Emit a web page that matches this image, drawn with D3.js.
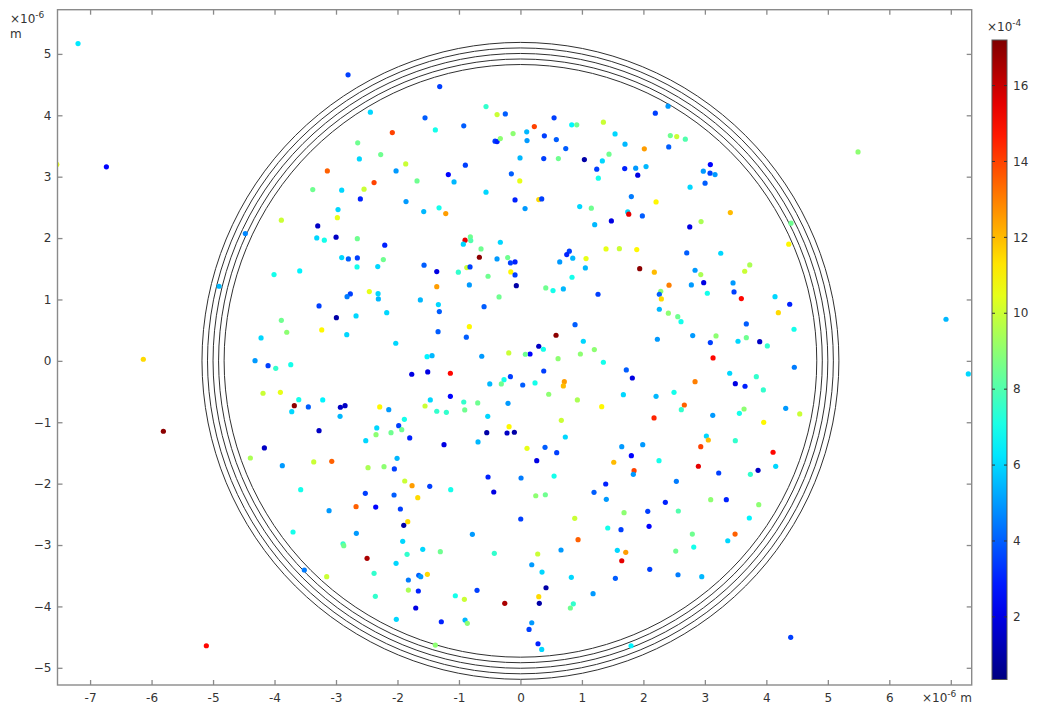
<!DOCTYPE html>
<html>
<head>
<meta charset="utf-8">
<script src="https://cdn.jsdelivr.net/npm/d3@7"></script>
<style>
  html, body { margin: 0; padding: 0; background: #fff; }
  svg { display: block; }
  text { font-family: "DejaVu Sans", "Liberation Sans", sans-serif; fill: #333; }
</style>
</head>
<body>
<svg id="chart" width="1043" height="706"></svg>
<script>
// Particle positions (x, y in units of 1e-6 m) and scalar value (units of 1e-4)
const particleX = [
  -7.196,-7.54,-6.735,-3.889,-4.475,
  -2.804,-1.313,-2.441,-0.56,-0.38,-0.246,-1.552,-1.384,-0.922,-0.12,-2.084,-2.647,-0.413,-0.38,-0.327,
  -2.273,-2.62,-1.866,-2.023,-3.141,-1.173,-0.896,-1.08,-0.148,-2.381,-1.682,-3.378,-2.907,-2.544,-2.604,
  -1.861,-0.56,-0.088,-2.967,-2.978,-1.573,-1.324,-1.215,-3.297,
  2.401,2.194,0.547,0.226,0.102,0.107,0.389,0.584,0.834,0.916,1.349,1.539,0.737,1.701,2.015,2.438,2.542,
  2.682,2.412,-0.007,0.379,0.617,1.04,1.441,1.332,1.241,1.267,1.696,1.875,2.043,1.908,3.089,2.975,3.084,
  3.165,3.003,2.759,-0.011,0.298,0.346,0.075,1.804,2.206,0.964,1.153,1.745,1.762,1.983,1.479,1.208,2.754,
  2.938,3.414,
  5.491,4.401,
  -4.902,-4.008,-3.889,-3.801,-4.219,-6.134,-4.317,-4.105,-3.98,-4.187,-3.905,-5.808,-4.165,-4.393,
  -3.313,-3.19,-2.999,-2.653,-2.207,-0.901,-0.929,-0.815,-0.808,-0.668,-0.641,-0.327,-0.164,-0.088,-0.207,
  -0.381,-2.907,-2.799,-2.653,-2.658,-2.23,-2.321,-3.59,-1.568,-1.361,-1.01,-0.873,-0.82,-0.527,-0.158,
  -0.088,-0.067,-1.361,-0.831,-2.458,-2.316,-2.311,-2.767,-2.82,-3.276,-1.628,-0.348,-1.335,-1.319,-0.592,
  -2.674,-2.994,-2.175,-3.232,-2.825,-1.34,-0.831,-0.88,-2.028,-3.736,-1.519,-1.438,-0.629,-0.19,-1.768,
  -1.508,-1.14,-1.14,-0.267,-0.311,-0.499,-0.164,-3.678,-3.606,-3.72,-3.45,-3.216,-2.929,-2.853,-2.289,
  -2.142,-2.934,-1.552,-1.466,-1.361,-1.205,-0.922,-0.906,-0.695,-0.202,-0.532,-0.185,-0.548,-0.218,-0.099,
  -1.888,-1.98,-1.931,-2.337,-2.349,-2.105,-1.801,-3.276,-2.516,-1.243,-0.69,-2.007,-3.362,-3.069,
  0.795,0.753,0.851,0.639,1.067,1.392,1.609,1.892,1.056,0.839,0.412,0.53,0.698,1.262,1.94,2.178,2.417,
  2.78,2.981,2.933,2.705,3.258,2.84,3.04,2.282,2.259,2.292,3.458,3.474,3.593,3.648,2.259,2.406,2.559,
  2.612,3.674,0.888,0.579,1.023,0.298,0.156,0.373,0.08,0.612,0.975,1.202,1.349,2.227,2.802,3.181,3.089,
  3.539,3.674,3.133,0.379,1.722,1.82,0.037,0.237,0.714,0.698,0.46,1.674,0.926,1.322,2.206,2.498,2.84,
  3.404,3.495,3.653,2.666,2.617,2.173,3.128,3.561,3.637,0.665,0.73,0.107,0.4,0.59,0.265,1.648,1.989,
  1.804,3.024,3.056,2.933,3.495,1.518,2.254,
  4.364,3.73,4.141,4.38,4.195,4.45,3.892,4.016,4.455,3.837,3.951,4.315,4.543,3.957,4.109,6.922,7.285,
  -3.873,-5.109,
  -2.479,-2.219,-2.051,-1.882,-1.763,-1.475,-1.134,-0.527,-0.434,-3.574,-2.523,-2.056,-1.67,-3.113,-2.674,
  -2.354,-1.953,-1.833,-1.898,-3.699,-2.669,-0.782,-1.915,-2.886,-2.874,-1.589,-1.844,-1.303,-0.425,-2.495,
  -2.023,-3.515,-3.151,-2.381,-1.823,-1.654,-1.622,-1.514,-1.823,-1.661,-2.36,-0.706,-1.059,-0.912,-1.703,
  -0.255,-2.019,-1.287,-0.901,-0.864,-1.384,
  1.848,1.836,2.894,3.225,0.01,0.547,1.387,2.536,0.249,0.405,1.197,1.397,2.357,3.095,3.349,0.005,0.883,
  1.685,2.071,2.568,1.42,1.636,2.092,0.937,2.796,3.491,3.372,2.819,2.526,0.66,1.576,1.713,1.648,0.281,
  0.184,0.351,2.103,2.563,2.949,0.828,1.544,0.416,0.298,0.307,1.181,0.86,0.812,0.184,0.14,0.286,0.346,1.799,
  3.865,4.152,3.74,3.876,3.723,4.396
];
const particleY = [
  5.169,3.20,3.16,2.291,2.073,
  4.659,4.468,4.051,4.142,4.012,4.023,3.958,3.762,3.828,3.702,3.719,3.551,3.578,3.572,3.621,
  3.36,3.29,3.208,3.094,3.094,3.034,3.187,2.915,3.046,2.904,2.931,2.79,2.78,2.796,2.638,
  2.594,2.747,2.622,2.464,2.333,2.431,2.492,2.399,2.198,
  4.148,4.035,3.958,3.816,3.730,3.588,3.665,3.604,3.844,3.844,3.888,3.697,3.458,3.529,3.453,3.67,3.653,
  3.611,3.485,3.306,3.295,3.295,3.279,3.366,3.257,3.122,2.975,3.132,3.138,3.165,3.024,3.197,3.089,3.057,
  3.034,2.894,2.829,2.931,2.627,2.638,2.48,2.676,2.589,2.513,2.487,2.426,2.389,2.361,2.28,2.219,2.182,
  2.268,2.415,
  3.404,2.242,
  1.215,1.405,0.661,0.466,0.373,0.026,0.003,-0.078,-0.121,-0.528,-0.512,-1.147,-1.419,-1.582,
  2.003,1.965,2.014,1.991,1.884,1.965,1.9,2.019,1.959,1.688,1.823,1.932,1.595,1.612,1.682,
  1.66,1.682,1.66,1.677,1.53,1.649,1.535,1.465,1.558,1.454,1.444,1.519,1.53,1.378,1.449,
  1.4,1.225,1.209,1.237,1.128,1.095,1.009,1.09,1.046,0.895,0.992,1.041,0.916,0.802,0.883,
  0.732,0.704,0.785,0.504,0.427,0.476,0.557,0.385,0.287,-0.062,0.068,0.085,0.075,0.129,-0.218,
  -0.181,-0.202,-0.577,-0.306,-0.376,-0.376,-0.257,-0.73,-0.632,-0.828,-0.751,-0.637,-0.756,-0.73,-0.751,
  -0.795,-0.903,-0.735,-0.637,-0.821,-0.838,-0.67,-0.8,-0.686,-0.691,-0.903,-1.072,-1.17,-1.175,-1.163,
  -0.952,-1.056,-1.121,-1.093,-1.203,-1.17,-1.256,-1.137,-1.3,-1.365,-1.321,-1.587,-1.647,-1.636,
  1.786,1.731,1.672,1.612,1.666,1.823,1.828,1.812,1.514,1.362,1.188,1.144,1.172,1.085,1.502,1.444,1.232,
  1.237,1.274,1.405,1.758,1.753,1.476,1.101,1.134,1.085,1.009,1.269,1.123,1.014,1.46,0.841,0.776,0.72,
  0.639,0.601,0.59,0.417,0.319,0.238,0.112,0.189,0.108,0.036,0.112,0.183,-0.023,0.352,0.411,0.406,0.297,
  0.319,0.378,0.047,-0.165,-0.148,-0.279,-0.393,-0.36,-0.339,-0.409,-0.544,-0.551,-0.637,-0.746,-0.577,-0.512,-0.339,
  -0.202,-0.372,-0.414,-0.719,-0.795,-0.93,-0.887,-0.854,-0.784,-0.968,-1.24,-1.424,-1.408,-1.496,-1.626,-1.398,-1.365,
  -1.545,-1.224,-1.289,-1.398,-1.3,-1.652,-1.626,
  1.9,1.563,1.046,0.922,0.785,0.515,0.313,0.243,-0.104,-0.257,-0.474,-0.773,-0.865,-1.001,-1.489,0.678,-0.213,
  -1.708,-4.641,
  -1.74,-1.724,-1.761,-1.957,-2.033,-2.043,-2.099,-1.892,-2.136,-2.099,-2.158,-2.185,-2.229,-2.441,-2.376,
  -2.381,-2.413,-2.62,-2.679,-2.788,-2.81,-2.826,-2.94,-2.979,-3.011,-3.07,-3.151,-3.109,-3.135,-3.217,
  -3.298,-3.407,-3.516,-3.461,-3.57,-3.494,-3.516,-3.477,-3.733,-3.749,-3.836,-3.738,-3.826,-3.885,-4.026,
  -3.95,-4.211,-4.25,-4.222,-4.276,-4.629,
  -1.789,-1.848,-1.717,-1.827,-1.908,-1.876,-2.006,-1.962,-2.197,-2.181,-2.141,-2.255,-2.304,-2.262,-2.262,-2.576,-2.565,
  -2.473,-2.451,-2.446,-2.723,-2.75,-2.696,-2.913,-2.821,-2.821,-2.93,-3.033,-3.098,-3.081,-3.086,-3.119,-3.256,-3.146,
  -3.321,-3.44,-3.396,-3.484,-3.516,-3.526,-3.543,-3.696,-3.842,-3.95,-3.793,-3.957,-4.026,-4.266,-4.374,-4.608,-4.7,-4.641,
  -1.783,-1.718,-1.848,-2.343,-2.56,-4.504
];
const particleValue = [
  6.3,10.5,2.5,10,4.7,
  3.5,3.5,6,7.5,10,4,4,7,4,9,14,8.5,3.5,3,9,
  8.5,6,10,5,13.5,2.5,3.5,5.5,4,14,8.5,8.5,6,10,3,
  5,6,3,6,10.5,5.5,7,12.5,1.5,
  5,3.5,3.5,14,5.5,5,3.5,4,6.5,8.5,10,6,4,5.5,12.5,8.5,10,
  8,4,5.5,3.5,8.5,1,8.5,6,3.5,7,3,5,5.5,2,2.5,5,3.5,
  5,4,6,10.5,11.5,3.5,5,4.5,11,6,8.5,6,15.5,4,2,5.5,2,
  9.5,12,
  9,8.5,
  5.5,7,8.5,9,6,11.5,5,3.5,7.5,10,10.5,17,1.5,9.5,
  6,7,1.5,8.5,3,15.5,6,8.5,8,17,8.5,6,3.5,3,8.5,
  5,6,4,3.5,7,8.5,6,6.5,4,2,7.5,10,3.5,8.5,11,
  3.5,1,12.5,5,10.5,6,5.5,3.5,4.5,3.5,5.5,8.5,6,4,4,
  6,1,6,11,6,4,11,4,6,7,6.5,5.5,5,10,2,
  2,15,2.5,7,8.5,5.5,3.5,17,7,6,4,6.5,1.5,1.5,11,
  5,5.5,10,6,7.5,7.5,7.5,8.5,8.5,5,6,11,1,1.5,1,
  7,3.5,8.5,6,9,8.5,3,1.5,6,2,5.5,5.5,10,13.5,
  3.5,3,5.5,5,10.5,10.5,10,11,5.5,7,8.5,7,5.5,3.5,17,12,13,
  5,2,9.5,4,6,5,7,9,4,11.5,5,3.5,15,10,5.5,9,8.5,
  7,4,4,17,6,1.5,2.5,7,8.5,9,9,9,7,5,5,9,3.5,
  6,8.5,15,3.5,4,2,4,7,12.5,12,9,6,9.5,11,5.5,7,13,
  6,2,3,13.5,7.5,14.5,5,7,9,10,6,10.5,4,3.5,2,5,5,
  2.5,6,12,14,7.5,12,7,
  11,9.5,6,3,11.5,7,1.5,7.5,4.5,7.5,7.5,5,10,11,15,5.5,6,
  5,15,
  9.5,9,3.5,10,12.5,3.5,7,3,2,7,3.5,4,11.5,5,13.5,
  2.5,3.5,11.5,1,7,5,5,6,7.5,8.5,6,7.5,8.5,7.5,16.5,
  6,4.5,10,7.5,4.5,4,5,11.5,9.5,3,7.5,3.5,7,10,2,
  16.5,6,3,5.5,9,9,
  14,5,15.5,3.5,4.5,7,3,4.5,9,8.5,4,5,3,9,3,3.5,10,
  9,3.5,8,7,3.5,2.5,13.5,8.5,13.5,6,7,8.5,5,6,12.5,15.5,10,
  5,6,3.5,4.5,5.5,6,4,1,11.5,1,5,7.5,8.5,5,3.5,3,6,6.5,
  1.5,6,7.5,9,6.5,3.5
];

// Concentric boundary circles (radius, 1e-6 m)
const circleRadii = [4.82, 4.91, 5.0, 5.09, 5.18];

// Tick values
const xTicks = [-7, -6, -5, -4, -3, -2, -1, 0, 1, 2, 3, 4, 5, 6, 7];
const xTickLabels = ["-7", "-6", "-5", "-4", "-3", "-2", "-1", "0", "1", "2", "3", "4", "5", "6", ""];
const yTicks = [-5, -4, -3, -2, -1, 0, 1, 2, 3, 4, 5];
const colorTicks = [2, 4, 6, 8, 10, 12, 14, 16];
const colorRange = [0.35, 17.2];

// Layout
const plot = { left: 57.5, right: 971.7, top: 9.7, bottom: 685 };
const bar = { left: 992, right: 1007, top: 40, bottom: 679.5 };

const svg = d3.select("#chart");
svg.append("rect").attr("width", 1043).attr("height", 706).attr("fill", "#fff");

const x = d3.scaleLinear().domain([-7.53, 7.34]).range([plot.left, plot.right]);
const y = d3.scaleLinear().domain([-5.28, 5.72]).range([plot.bottom, plot.top]);

// Jet colour map
function jet(t) {
  t = Math.max(0, Math.min(1, t));
  const c = v => Math.round(255 * Math.max(0, Math.min(1, v)));
  const r = c(1.5 - Math.abs(4 * t - 3));
  const g = c(1.5 - Math.abs(4 * t - 2));
  const b = c(1.5 - Math.abs(4 * t - 1));
  return `rgb(${r},${g},${b})`;
}
const colorNorm = d3.scaleLinear().domain(colorRange).range([0, 1]).clamp(true);
const color = v => jet(colorNorm(v));

// Clip to plot area
svg.append("defs").append("clipPath").attr("id", "plotClip")
  .append("rect")
  .attr("x", plot.left).attr("y", plot.top)
  .attr("width", plot.right - plot.left).attr("height", plot.bottom - plot.top);

const g = svg.append("g").attr("clip-path", "url(#plotClip)");

// Circles
g.selectAll("circle.ring").data(circleRadii).join("circle")
  .attr("class", "ring")
  .attr("cx", x(0)).attr("cy", y(0))
  .attr("r", d => x(d) - x(0))
  .attr("fill", "none")
  .attr("stroke", "#303030")
  .attr("stroke-width", 1);

// Particles
const particles = particleX.map((px, i) => ({ x: px, y: particleY[i], v: particleValue[i] }));
g.selectAll("circle.p").data(particles).join("circle")
  .attr("class", "p")
  .attr("cx", d => x(d.x)).attr("cy", d => y(d.y))
  .attr("r", 2.6)
  .attr("fill", d => color(d.v));

// Axes (ticks pointing inward on all sides)
const axisColor = "#8a8a8a";
const fontSize = "12px";

const bottomAxis = d3.axisBottom(x).tickValues(xTicks)
  .tickFormat((d, i) => xTickLabels[i]).tickSizeInner(-5).tickSizeOuter(0).tickPadding(8);
const topAxis = d3.axisTop(x).tickValues(xTicks).tickFormat("").tickSizeInner(-5).tickSizeOuter(0);
const leftAxis = d3.axisLeft(y).tickValues(yTicks).tickFormat(d3.format("d"))
  .tickSizeInner(-5).tickSizeOuter(0).tickPadding(6);
const rightAxis = d3.axisRight(y).tickValues(yTicks).tickFormat("").tickSizeInner(-5).tickSizeOuter(0);

function styleAxis(sel) {
  sel.select(".domain").remove();
  sel.selectAll(".tick line").attr("stroke", axisColor).attr("stroke-width", 1.3);
  sel.selectAll(".tick text").attr("fill", "#333").style("font-size", fontSize)
    .style("font-family", "'DejaVu Sans', sans-serif");
}

svg.append("g").attr("transform", `translate(0,${plot.bottom})`).call(bottomAxis).call(styleAxis);
svg.append("g").attr("transform", `translate(0,${plot.top})`).call(topAxis).call(styleAxis);
svg.append("g").attr("transform", `translate(${plot.left},0)`).call(leftAxis).call(styleAxis);
svg.append("g").attr("transform", `translate(${plot.right},0)`).call(rightAxis).call(styleAxis);

// Frame
svg.append("rect")
  .attr("x", plot.left).attr("y", plot.top)
  .attr("width", plot.right - plot.left).attr("height", plot.bottom - plot.top)
  .attr("fill", "none").attr("stroke", axisColor).attr("stroke-width", 1.4);

// Axis multipliers and units
function sciLabel(parent, xPos, yPos, exp, unit) {
  const t = parent.append("text").attr("x", xPos).attr("y", yPos).style("font-size", fontSize);
  t.append("tspan").text("×10");
  t.append("tspan").attr("dy", -5).style("font-size", "9px").text(exp);
  if (unit) t.append("tspan").attr("dy", 5).attr("dx", 4).text(unit);
  return t;
}
sciLabel(svg, 10, 23, "-6");
svg.append("text").attr("x", 10).attr("y", 38).style("font-size", fontSize).text("m");
sciLabel(svg, 922, 702, "-6", "m");

// Colour bar
const cbar = d3.scaleLinear().domain(colorRange).range([bar.bottom, bar.top]);
const grad = svg.select("defs").append("linearGradient")
  .attr("id", "jetGrad").attr("x1", 0).attr("y1", 1).attr("x2", 0).attr("y2", 0);
d3.range(0, 1.0001, 0.05).forEach(t => {
  grad.append("stop").attr("offset", t).attr("stop-color", jet(t));
});
svg.append("rect")
  .attr("x", bar.left).attr("y", bar.top)
  .attr("width", bar.right - bar.left).attr("height", bar.bottom - bar.top)
  .attr("fill", "url(#jetGrad)")
  .attr("stroke", "#555").attr("stroke-width", 1);

const cbTicks = svg.append("g");
cbTicks.selectAll("line.l").data(colorTicks).join("line")
  .attr("x1", bar.left).attr("x2", bar.left + 3)
  .attr("y1", d => cbar(d)).attr("y2", d => cbar(d))
  .attr("stroke", "#333").attr("stroke-width", 1);
cbTicks.selectAll("line.r").data(colorTicks).join("line")
  .attr("x1", bar.right - 3).attr("x2", bar.right)
  .attr("y1", d => cbar(d)).attr("y2", d => cbar(d))
  .attr("stroke", "#333").attr("stroke-width", 1);
cbTicks.selectAll("text").data(colorTicks).join("text")
  .attr("x", bar.right + 6).attr("y", d => cbar(d)).attr("dy", "0.35em")
  .style("font-size", fontSize).text(d => d);

sciLabel(svg, 987, 31, "-4");
</script>
</body>
</html>
